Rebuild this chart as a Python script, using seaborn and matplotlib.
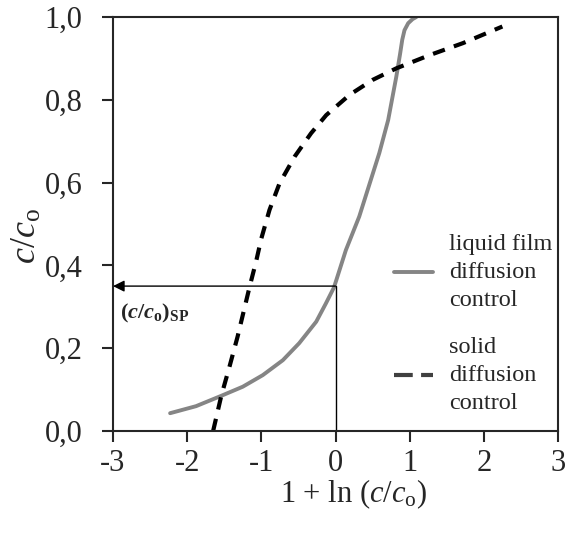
import matplotlib
matplotlib.use("Agg")
import matplotlib.pyplot as plt
import seaborn as sns
import pandas as pd

# Curve values
liquid_x = [-2.23, -1.88, -1.54, -1.25, -0.98, -0.71, -0.49, -0.26, -0.13, -0.02,
            0.14, 0.32, 0.59, 0.71, 0.82, 0.87, 0.90, 0.93, 0.98, 1.04, 1.09]
liquid_y = [0.043, 0.060, 0.085, 0.107, 0.135, 0.171, 0.212, 0.264, 0.308, 0.347,
            0.437, 0.518, 0.671, 0.751, 0.856, 0.910, 0.945, 0.968, 0.985, 0.995, 1.0]

solid_x = [-1.65, -1.54, -1.43, -1.32, -1.16, -1.07, -1.00, -0.89, -0.755, -0.55,
           -0.33, -0.125, 0.19, 0.50, 0.82, 1.27, 1.72, 2.25]
solid_y = [0.0, 0.085, 0.155, 0.228, 0.347, 0.41, 0.465, 0.534, 0.598, 0.663,
           0.719, 0.763, 0.812, 0.848, 0.876, 0.908, 0.937, 0.977]

sp_x = 0.0
sp_y = 0.35

x_ticks = [-3, -2, -1, 0, 1, 2, 3]
x_labels = ["-3", "-2", "-1", "0", "1", "2", "3"]
y_ticks = [0.0, 0.2, 0.4, 0.6, 0.8, 1.0]
y_labels = ["0,0", "0,2", "0,4", "0,6", "0,8", "1,0"]

liquid = pd.DataFrame({"x": liquid_x, "y": liquid_y})
solid = pd.DataFrame({"x": solid_x, "y": solid_y})

sns.set_style("ticks")
plt.rcParams["font.family"] = ["Liberation Serif", "DejaVu Serif"]
plt.rcParams["mathtext.fontset"] = "custom"
plt.rcParams["mathtext.rm"] = "Liberation Serif"
plt.rcParams["mathtext.it"] = "Liberation Serif:italic"
plt.rcParams["mathtext.bf"] = "Liberation Serif:bold"
plt.rcParams["mathtext.bfit"] = "Liberation Serif:italic:bold"

fig = plt.figure(figsize=(5.69, 5.35), dpi=100)
ax = fig.add_axes([113 / 569, 1 - 431 / 535, 445 / 569, 414 / 535])

sns.lineplot(data=liquid, x="x", y="y", ax=ax, color="#858585", lw=2.8,
             sort=False, label="liquid film\ndiffusion\ncontrol")
sns.lineplot(data=solid, x="x", y="y", ax=ax, color="black", lw=3,
             sort=False, label="solid\ndiffusion\ncontrol")
ax.lines[1].set_dashes((3.0, 2.3))

# separation point guide
ax.plot([sp_x, sp_x], [0, sp_y], color="black", lw=1)
ax.annotate("", xy=(-3, sp_y), xytext=(sp_x, sp_y),
            arrowprops=dict(arrowstyle="-|>", color="black", lw=1,
                            mutation_scale=17, shrinkA=0, shrinkB=0))
ax.text(-2.9, 0.285, r"$\mathbf{(}\mathbfit{c}\mathbf{/}\mathbfit{c}_\mathbf{o}\mathbf{)}_\mathbf{SP}$",
        fontsize=16, va="center", ha="left")

ax.set_xlim(-3, 3)
ax.set_ylim(0, 1)
ax.set_xticks(x_ticks, x_labels)
ax.set_yticks(y_ticks, y_labels)
ax.tick_params(labelsize=22, length=8, width=1.5, direction="out")
ax.tick_params(axis="y", pad=14)
ax.tick_params(axis="x", pad=5)
for s in ax.spines.values():
    s.set_linewidth(1.5)

ax.set_xlabel(r"1 + ln ($c/c_\mathrm{o}$)", fontsize=22)
ax.set_ylabel(r"$c/c_\mathrm{o}$", fontsize=26)
ax.xaxis.set_label_coords(0.54, -0.112)
ax.yaxis.set_label_coords(-0.155, 0.47)

leg = ax.legend(loc="upper left", bbox_to_anchor=(0.605, 0.505), frameon=False,
                fontsize=17.5, handlelength=1.6, handletextpad=0.65,
                labelspacing=1.05, borderpad=0)
leg.legend_handles[0].set_color("#858585")
leg.legend_handles[1].set_color("#404040")
leg.legend_handles[1].set_dashes((4.5, 2.0))
for t in leg.get_texts():
    t.set_linespacing(1.45)

fig.savefig("out.png", dpi=100)
